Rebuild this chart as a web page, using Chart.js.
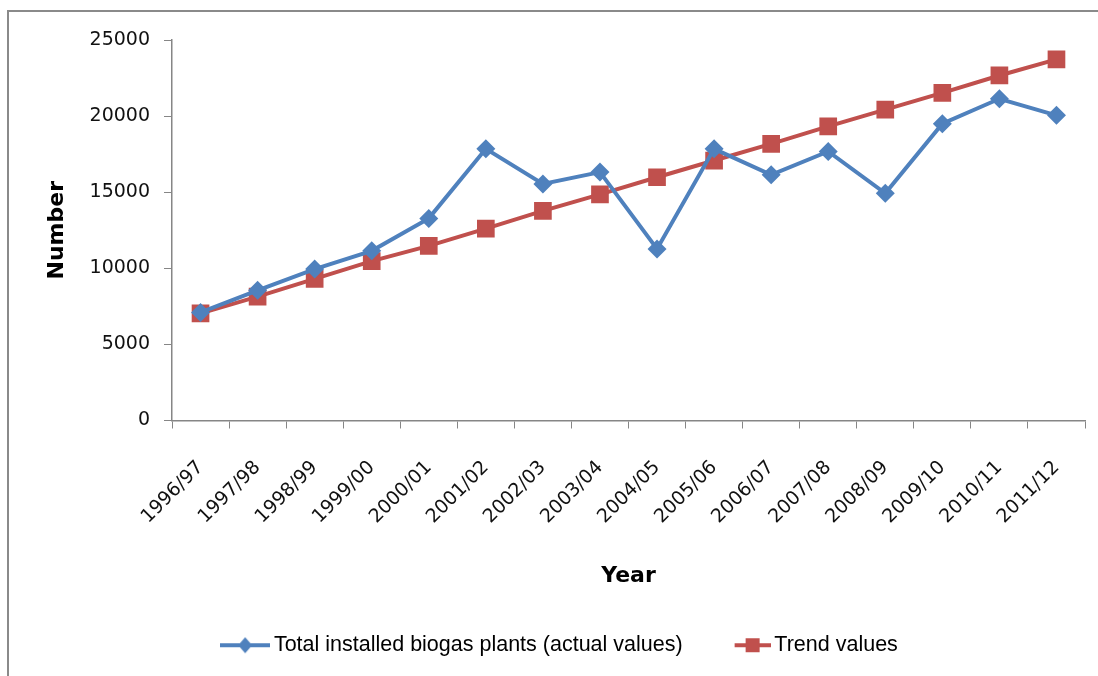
<!DOCTYPE html>
<html>
<head>
<meta charset="utf-8">
<title>Total installed biogas plants</title>
<script src="https://cdn.jsdelivr.net/npm/chart.js@4/dist/chart.umd.min.js"></script>
<style>
    html, body { margin: 0; padding: 0; background: #fff; }
    #wrap { position: relative; width: 1098px; height: 676px; overflow: hidden; }
    #frame { position: absolute; left: 7px; top: 10px; width: 1300px; height: 900px;
             border-left: 2px solid #8a8a8a; border-top: 2px solid #8a8a8a; }
    #chart { position: absolute; left: 0; top: 0; }
</style>
</head>
<body>
<div id="wrap">
    <div id="frame"></div>
    <canvas id="chart" width="1098" height="676"></canvas>
</div>
<script>
// --- data ---
const years = ['1996/97', '1997/98', '1998/99', '1999/00', '2000/01', '2001/02', '2002/03', '2003/04',
               '2004/05', '2005/06', '2006/07', '2007/08', '2008/09', '2009/10', '2010/11', '2011/12'];
const actualValues = [7100, 8550, 9950, 11150, 13280, 17850, 15540, 16320,
                      11270, 17850, 16140, 17680, 14930, 19500, 21140, 20050];
const trendValues = [7040, 8140, 9310, 10470, 11470, 12610, 13770, 14860,
                     15980, 17080, 18180, 19330, 20430, 21530, 22670, 23730];
const yTicks = [0, 5000, 10000, 15000, 20000, 25000];

const BLUE = '#4f81bd';
const RED = '#c0504d';
const AXIS = '#868686';

// legend swatch: line with the marker in the middle (red one is shorter, like the original)
function legendSwatch(color, style) {
    let c = document.createElement('canvas');
    c.width = 50;
    c.height = 20;
    let g = c.getContext('2d');
    g.strokeStyle = color;
    g.fillStyle = color;
    g.lineWidth = 4;
    g.beginPath();
    if (style === 'diamond') {
        g.moveTo(0, 10);
        g.lineTo(50, 10);
        g.stroke();
        g.beginPath();
        g.moveTo(25, 2); g.lineTo(32, 10); g.lineTo(25, 18); g.lineTo(18, 10);
        g.closePath();
        g.fill();
    } else {
        g.moveTo(14, 10);
        g.lineTo(50, 10);
        g.stroke();
        g.fillRect(25, 3, 14, 14);
    }
    return c;
}

const tickFont = { family: "'DejaVu Sans', sans-serif", size: 19 };
const titleFont = { family: "'DejaVu Sans', sans-serif", size: 22, weight: 'bold' };

new Chart(document.getElementById('chart').getContext('2d'), {
    type: 'line',
    data: {
        labels: years,
        datasets: [{
            label: 'Total installed biogas plants (actual values)',
            data: actualValues,
            borderColor: BLUE,
            backgroundColor: BLUE,
            borderWidth: 4,
            pointStyle: 'rectRot',
            pointRadius: 9.5,
            pointBorderWidth: 0,
            pointBackgroundColor: BLUE,
            tension: 0
        }, {
            label: 'Trend values',
            data: trendValues,
            borderColor: RED,
            backgroundColor: RED,
            borderWidth: 4,
            pointStyle: 'rect',
            pointRadius: 12.5,
            pointBorderWidth: 0,
            pointBackgroundColor: RED,
            tension: 0
        }]
    },
    options: {
        responsive: false,
        animation: false,
        devicePixelRatio: 1,
        layout: { padding: { left: 40, right: 13, top: 40, bottom: 10 } },
        plugins: {
            tooltip: { enabled: false },
            legend: {
                position: 'bottom',
                labels: {
                    usePointStyle: true,
                    pointStyleWidth: 36,
                    padding: 45,
                    color: '#222',
                    font: { family: "'Liberation Sans', sans-serif", size: 21.5 },
                    generateLabels: chart => chart.data.datasets.map((ds, i) => ({
                        text: ds.label,
                        pointStyle: legendSwatch(ds.borderColor, i === 0 ? 'diamond' : 'square'),
                        fillStyle: ds.borderColor,
                        strokeStyle: ds.borderColor,
                        lineWidth: 0,
                        datasetIndex: i
                    }))
                }
            }
        },
        scales: {
            x: {
                offset: true,
                grid: { display: true, offset: true, drawOnChartArea: false, drawTicks: true, tickLength: 8, color: AXIS },
                border: { color: AXIS, width: 1.5 },
                ticks: { color: '#111', font: tickFont, maxRotation: 45, minRotation: 45, padding: 28, autoSkip: false },
                title: { display: true, text: 'Year', color: '#000', font: titleFont, padding: { top: 0, bottom: 0 } },
                afterFit: scale => {
                    scale.height = 169;
                    scale.paddingLeft = 0;
                    scale.paddingRight = 0;
                }
            },
            y: {
                min: 0,
                max: 25000,
                afterBuildTicks: scale => { scale.ticks = yTicks.map(v => ({ value: v })); },
                grid: { display: true, drawOnChartArea: false, drawTicks: true, tickLength: 8, color: AXIS },
                border: { color: AXIS, width: 1.5 },
                ticks: { color: '#111', font: tickFont, padding: 14, callback: v => String(v) },
                title: { display: true, text: 'Number', color: '#000', font: titleFont, padding: { top: 4, bottom: 0 } },
                afterFit: scale => { scale.width = 132; }
            }
        }
    }
});
</script>
</body>
</html>
